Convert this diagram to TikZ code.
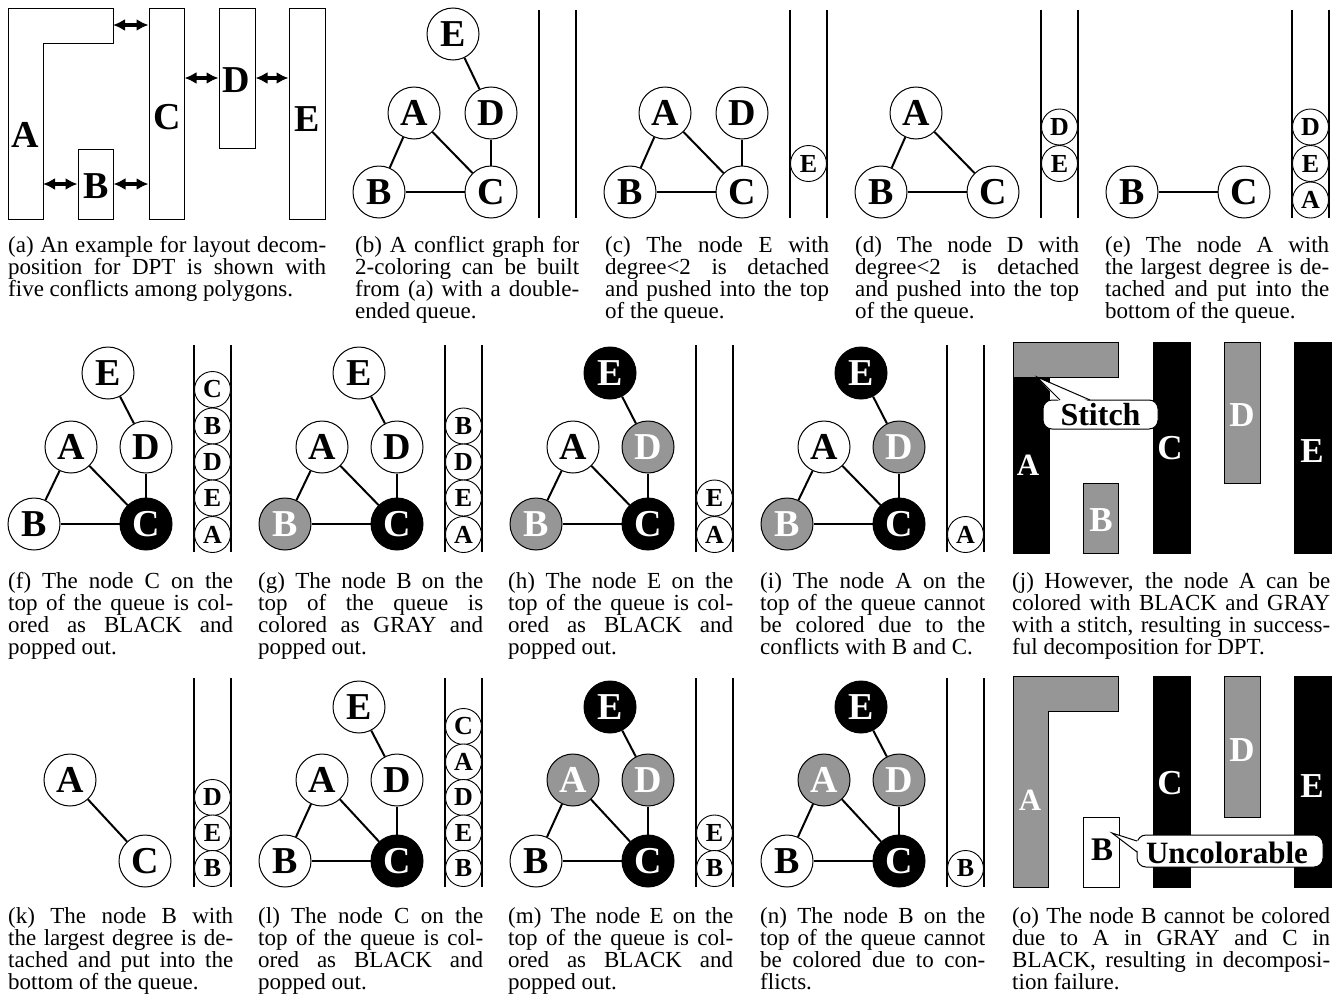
\documentclass[tikz,border=0pt]{standalone}
\usepackage{fontspec}
\setmainfont{Liberation Serif}
\usetikzlibrary{arrows.meta}
\definecolor{gcol}{RGB}{150,150,150}
\tikzset{
  gn/.style={circle,draw,line width=1pt,minimum size=52pt,inner sep=0pt,fill=white,font=\fontsize{38}{38}\selectfont\bfseries},
  bn/.style={gn,fill=black,text=white},
  yn/.style={gn,fill=gcol,text=white},
  qn/.style={circle,draw,line width=0.9pt,minimum size=36pt,inner sep=0pt,fill=white,font=\fontsize{26}{26}\selectfont\bfseries},
  ed/.style={line width=2pt},
  ql/.style={line width=1.2pt},
  captxt/.style={anchor=base west,inner sep=0pt,align=justify,font=\fontsize{23}{22}\selectfont},
  sm/.style={captxt,text width=224pt},
  wd/.style={captxt,text width=318pt},
  poly/.style={draw,line width=1pt},
  rbox/.style={draw,line width=1pt,inner sep=0pt},
  dbl/.style={{Latex[length=12pt,width=12pt]}-{Latex[length=12pt,width=12pt]},line width=3.2pt},
  lbl/.style={font=\fontsize{38}{38}\selectfont\bfseries,inner sep=0pt},
  wl/.style={font=\fontsize{35}{35}\selectfont\bfseries,inner sep=0pt,text=white},
  callbox/.style={draw,line width=1pt,fill=white,rounded corners=9pt,inner sep=0pt}
}
\begin{document}
\begin{tikzpicture}[x=1pt,y=-1pt]
\useasboundingbox[fill=white] (0,0) rectangle (1343,996);

% ---------- (a) ----------
\draw[poly] (8,8) -- (113,8) -- (113,43) -- (43,43) -- (43,219) -- (8,219) -- cycle;
\node[lbl] (aA) at (25.5,135) {A};
\node[rbox,minimum width=35pt,minimum height=70pt] (aB) at (95.5,184) {};
\node[rbox,minimum width=35pt,minimum height=211pt] (aC) at (166.5,113.5) {};
\node[rbox,minimum width=36pt,minimum height=140pt] (aD) at (237,78) {};
\node[rbox,minimum width=36pt,minimum height=211pt] (aE) at (307,113.5) {};
\node[lbl] (aBl) at (96,186) {B};
\node[lbl] (aCl) at (167,117) {C};
\node[lbl] (aDl) at (236,80) {D};
\node[lbl] (aEl) at (307,119) {E};
\coordinate (aAarm) at (113,25);
\coordinate (aAin) at (43,184);
\draw[dbl] (aAarm) -- (aAarm -| aC.west);
\draw[dbl] (aAin) -- (aB.west);
\draw[dbl] (aB.east) -- (aB.east -| aC.west);
\draw[dbl] (aD.west -| aC.east) -- (aD.west);
\draw[dbl] (aD.east) -- (aD.east -| aE.west);
\node[wd] (capa) at (8,252) {(a) An example for layout decom-\linebreak position for DPT is shown with\linebreak five conflicts among polygons.};

% ---------- (b) ----------
\node[gn] (bE) at (453,34) {E};
\node[gn] (bA) at (414,113) {A};
\node[gn] (bD) at (491,113) {D};
\node[gn] (bB) at (379,192) {B};
\node[gn] (bC) at (491,192) {C};
\draw[ed] (bA) -- (bB); \draw[ed] (bA) -- (bC); \draw[ed] (bB) -- (bC);
\draw[ed] (bC) -- (bD); \draw[ed] (bD) -- (bE);
\draw[ql] (539,10) -- (539,218); \draw[ql] (576,10) -- (576,218);
\node[sm] (capb) at (355,252) {(b) A conflict graph for\linebreak 2-coloring can be built\linebreak from (a) with a double-\linebreak ended queue.};

% ---------- (c) ----------
\node[gn] (cA) at (665,113) {A};
\node[gn] (cD) at (742,113) {D};
\node[gn] (cB) at (630,192) {B};
\node[gn] (cC) at (742,192) {C};
\draw[ed] (cA) -- (cB); \draw[ed] (cA) -- (cC); \draw[ed] (cB) -- (cC); \draw[ed] (cC) -- (cD);
\draw[ql] (790,10) -- (790,218); \draw[ql] (827,10) -- (827,218);
\node[qn] (cqE) at (808.5,163.5) {E};
\node[sm] (capc) at (605,252) {(c) The node E with\linebreak degree<2 is detached\linebreak and pushed into the top\linebreak of the queue.};

% ---------- (d) ----------
\node[gn] (dA) at (916,113) {A};
\node[gn] (dB) at (881,192) {B};
\node[gn] (dC) at (993,192) {C};
\draw[ed] (dA) -- (dB); \draw[ed] (dA) -- (dC); \draw[ed] (dB) -- (dC);
\draw[ql] (1041,10) -- (1041,218); \draw[ql] (1078,10) -- (1078,218);
\node[qn] (dqD) at (1059.5,127) {D};
\node[qn] (dqE) at (1059.5,163.5) {E};
\node[sm] (capd) at (855,252) {(d) The node D with\linebreak degree<2 is detached\linebreak and pushed into the top\linebreak of the queue.};

% ---------- (e) ----------
\node[gn] (eB) at (1132,192) {B};
\node[gn] (eC) at (1244,192) {C};
\draw[ed] (eB) -- (eC);
\draw[ql] (1292,10) -- (1292,218); \draw[ql] (1329,10) -- (1329,218);
\node[qn] (eqD) at (1310.5,127) {D};
\node[qn] (eqE) at (1310.5,163.5) {E};
\node[qn] (eqA) at (1310.5,200) {A};
\node[sm] (cape) at (1105,252) {(e) The node A with\linebreak the largest degree is de-\linebreak tached and put into the\linebreak bottom of the queue.};

% ---------- (f) ----------
\node[gn] (fE) at (108,373) {E};
\node[gn] (fA) at (71,447) {A};
\node[gn] (fD) at (146,447) {D};
\node[gn] (fB) at (34,524) {B};
\node[bn] (fC) at (146,524) {C};
\draw[ed] (fA) -- (fB); \draw[ed] (fA) -- (fC); \draw[ed] (fB) -- (fC);
\draw[ed] (fC) -- (fD); \draw[ed] (fD) -- (fE);
\draw[ql] (194,345) -- (194,552); \draw[ql] (231,345) -- (231,552);
\node[qn] (fqC) at (212.5,389.5) {C};
\node[qn] (fqB) at (212.5,426) {B};
\node[qn] (fqD) at (212.5,462) {D};
\node[qn] (fqE) at (212.5,498) {E};
\node[qn] (fqA) at (212.5,534.5) {A};
\node[sm,text width=225pt] (capf) at (8,588) {(f) The node C on the\linebreak top of the queue is col-\linebreak ored as BLACK and\linebreak popped out.};

% ---------- (g) ----------
\node[gn] (gE) at (359,373) {E};
\node[gn] (gA) at (322,447) {A};
\node[gn] (gD) at (397,447) {D};
\node[yn] (gB) at (285,524) {B};
\node[bn] (gC) at (397,524) {C};
\draw[ed] (gA) -- (gB); \draw[ed] (gA) -- (gC); \draw[ed] (gB) -- (gC);
\draw[ed] (gC) -- (gD); \draw[ed] (gD) -- (gE);
\draw[ql] (445,345) -- (445,552); \draw[ql] (482,345) -- (482,552);
\node[qn] (gqB) at (463.5,426) {B};
\node[qn] (gqD) at (463.5,462) {D};
\node[qn] (gqE) at (463.5,498) {E};
\node[qn] (gqA) at (463.5,534.5) {A};
\node[sm,text width=225pt] (capg) at (258,588) {(g) The node B on the\linebreak top of the queue is\linebreak colored as GRAY and\linebreak popped out.};

% ---------- (h) ----------
\node[bn] (hE) at (610,373) {E};
\node[gn] (hA) at (573,447) {A};
\node[yn] (hD) at (648,447) {D};
\node[yn] (hB) at (536,524) {B};
\node[bn] (hC) at (648,524) {C};
\draw[ed] (hA) -- (hB); \draw[ed] (hA) -- (hC); \draw[ed] (hB) -- (hC);
\draw[ed] (hC) -- (hD); \draw[ed] (hD) -- (hE);
\draw[ql] (696,345) -- (696,552); \draw[ql] (733,345) -- (733,552);
\node[qn] (hqE) at (714.5,498) {E};
\node[qn] (hqA) at (714.5,534.5) {A};
\node[sm,text width=225pt] (caph) at (508,588) {(h) The node E on the\linebreak top of the queue is col-\linebreak ored as BLACK and\linebreak popped out.};

% ---------- (i) ----------
\node[bn] (iE) at (861,373) {E};
\node[gn] (iA) at (824,447) {A};
\node[yn] (iD) at (899,447) {D};
\node[yn] (iB) at (787,524) {B};
\node[bn] (iC) at (899,524) {C};
\draw[ed] (iA) -- (iB); \draw[ed] (iA) -- (iC); \draw[ed] (iB) -- (iC);
\draw[ed] (iC) -- (iD); \draw[ed] (iD) -- (iE);
\draw[ql] (947,345) -- (947,552); \draw[ql] (984,345) -- (984,552);
\node[qn] (iqA) at (965.5,534.5) {A};
\node[sm,text width=225pt] (capi) at (760,588) {(i) The node A on the\linebreak top of the queue cannot\linebreak be colored due to the\linebreak conflicts with B and C.};

% ---------- (j) ----------
\draw[poly,fill=black] (1013,377) rectangle (1049,553);
\draw[poly,fill=gcol] (1013,342) rectangle (1118,377);
\draw[poly,fill=gcol] (1083,483) rectangle (1118,553);
\draw[poly,fill=black] (1153,342) rectangle (1190,553);
\draw[poly,fill=gcol] (1224,342) rectangle (1260,483);
\draw[poly,fill=black] (1294,342) rectangle (1331,553);
\node[wl,font=\fontsize{31}{31}\selectfont\bfseries] (jA) at (1028,465) {A};
\node[wl] (jB) at (1101,520) {B};
\node[wl] (jC) at (1170,448) {C};
\node[wl] (jD) at (1242,415) {D};
\node[wl] (jE) at (1312,451) {E};
\node[callbox,minimum width=115pt,minimum height=29pt] (jS) at (1100.5,414.5) {};
\coordinate (jP) at (1037,377);
\fill[white] (jP) -- (1060,402) -- (1090,402) -- cycle;
\draw[line width=1pt] (1060,400) -- (jP) -- (1090,400);
\node[font=\fontsize{32}{32}\selectfont\bfseries,inner sep=0pt] (jSt) at (jS.center) {Stitch};
\node[wd] (capj) at (1012,588) {(j) However, the node A can be\linebreak colored with BLACK and GRAY\linebreak with a stitch, resulting in success-\linebreak ful decomposition for DPT.};

% ---------- (k) ----------
\node[gn] (kA) at (70,780) {A};
\node[gn] (kC) at (145,861) {C};
\draw[ed] (kA) -- (kC);
\draw[ql] (194,678) -- (194,887); \draw[ql] (231,678) -- (231,887);
\node[qn] (kqD) at (212.5,797.5) {D};
\node[qn] (kqE) at (212.5,833) {E};
\node[qn] (kqB) at (212.5,868.5) {B};
\node[sm,text width=225pt] (capk) at (8,923) {(k) The node B with\linebreak the largest degree is de-\linebreak tached and put into the\linebreak bottom of the queue.};

% ---------- (l) ----------
\node[gn] (lE) at (359,707) {E};
\node[gn] (lA) at (322,780) {A};
\node[gn] (lD) at (397,780) {D};
\node[gn] (lB) at (285,861) {B};
\node[bn] (lC) at (397,861) {C};
\draw[ed] (lA) -- (lB); \draw[ed] (lA) -- (lC); \draw[ed] (lB) -- (lC);
\draw[ed] (lC) -- (lD); \draw[ed] (lD) -- (lE);
\draw[ql] (445,678) -- (445,887); \draw[ql] (482,678) -- (482,887);
\node[qn] (lqC) at (463.5,726.5) {C};
\node[qn] (lqA) at (463.5,762) {A};
\node[qn] (lqD) at (463.5,797.5) {D};
\node[qn] (lqE) at (463.5,833) {E};
\node[qn] (lqB) at (463.5,868.5) {B};
\node[sm,text width=225pt] (capl) at (258,923) {(l) The node C on the\linebreak top of the queue is col-\linebreak ored as BLACK and\linebreak popped out.};

% ---------- (m) ----------
\node[bn] (mE) at (610,707) {E};
\node[yn] (mA) at (573,780) {A};
\node[yn] (mD) at (648,780) {D};
\node[gn] (mB) at (536,861) {B};
\node[bn] (mC) at (648,861) {C};
\draw[ed] (mA) -- (mB); \draw[ed] (mA) -- (mC); \draw[ed] (mB) -- (mC);
\draw[ed] (mC) -- (mD); \draw[ed] (mD) -- (mE);
\draw[ql] (696,678) -- (696,887); \draw[ql] (733,678) -- (733,887);
\node[qn] (mqE) at (714.5,833) {E};
\node[qn] (mqB) at (714.5,868.5) {B};
\node[sm,text width=225pt] (capm) at (508,923) {(m) The node E on the\linebreak top of the queue is col-\linebreak ored as BLACK and\linebreak popped out.};

% ---------- (n) ----------
\node[bn] (nE) at (861,707) {E};
\node[yn] (nA) at (824,780) {A};
\node[yn] (nD) at (899,780) {D};
\node[gn] (nB) at (787,861) {B};
\node[bn] (nC) at (899,861) {C};
\draw[ed] (nA) -- (nB); \draw[ed] (nA) -- (nC); \draw[ed] (nB) -- (nC);
\draw[ed] (nC) -- (nD); \draw[ed] (nD) -- (nE);
\draw[ql] (947,678) -- (947,887); \draw[ql] (984,678) -- (984,887);
\node[qn] (nqB) at (965.5,868.5) {B};
\node[sm,text width=225pt] (capn) at (760,923) {(n) The node B on the\linebreak top of the queue cannot\linebreak be colored due to con-\linebreak flicts.};

% ---------- (o) ----------
\draw[poly,fill=gcol] (1013,676) -- (1118,676) -- (1118,711) -- (1048,711) -- (1048,887) -- (1013,887) -- cycle;
\draw[poly,fill=white] (1083,817) rectangle (1119,887);
\draw[poly,fill=black] (1153,676) rectangle (1190,887);
\draw[poly,fill=gcol] (1224,676) rectangle (1260,817);
\draw[poly,fill=black] (1294,676) rectangle (1331,887);
\node[wl,font=\fontsize{31}{31}\selectfont\bfseries] (oA) at (1030,800) {A};
\node[lbl,font=\fontsize{33}{33}\selectfont\bfseries] (oB) at (1102,850) {B};
\node[wl] (oC) at (1170,783) {C};
\node[wl] (oD) at (1242,750) {D};
\node[wl] (oE) at (1312,786) {E};
\node[callbox,minimum width=186pt,minimum height=32pt] (oU) at (1230,851) {};
\coordinate (oP) at (1112,833);
\fill[white] (oP) -- (1139,841) -- (1139,852) -- cycle;
\draw[line width=1pt] (1137,841) -- (oP) -- (1137,852);
\node[font=\fontsize{31}{31}\selectfont\bfseries,inner sep=0pt] (oUt) at (1227,853) {Uncolorable};
\node[wd] (capo) at (1012,923) {(o) The node B cannot be colored\linebreak due to A in GRAY and C in\linebreak BLACK, resulting in decomposi-\linebreak tion failure.};
\end{tikzpicture}
\end{document}
